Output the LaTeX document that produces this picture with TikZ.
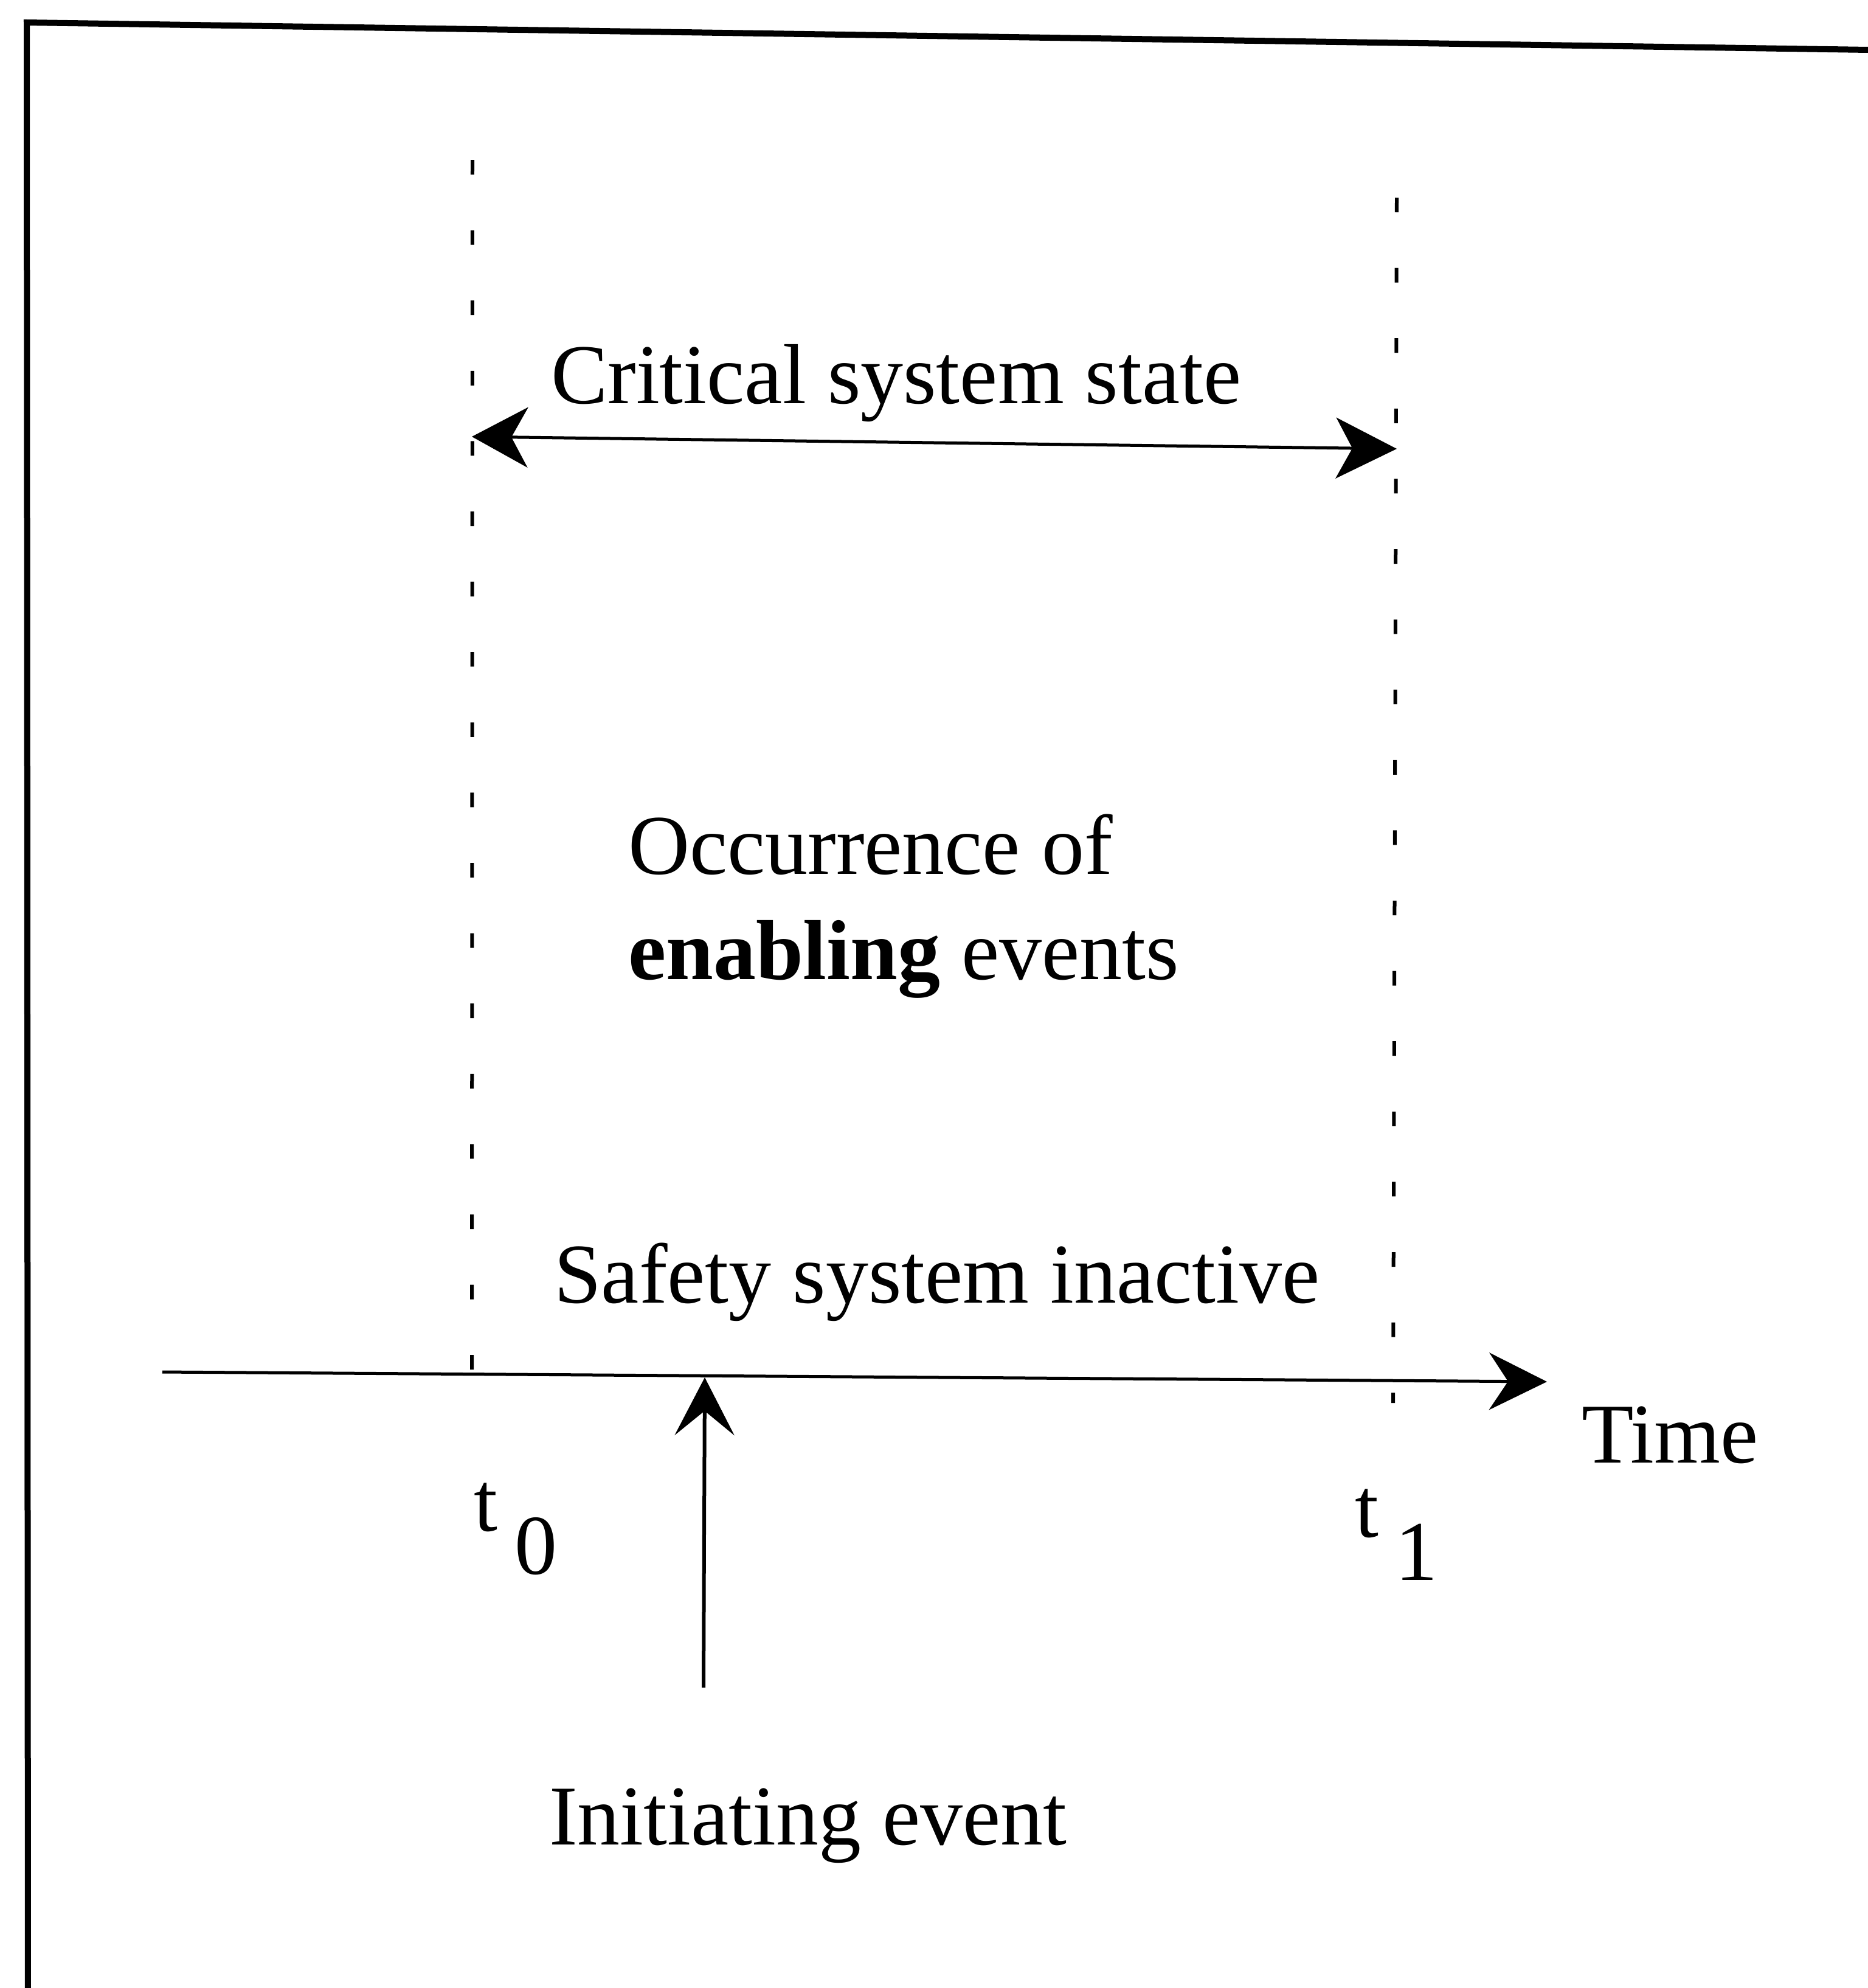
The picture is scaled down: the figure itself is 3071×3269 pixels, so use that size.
\documentclass[tikz,border=0pt]{standalone}
\usepackage{fontspec}
\setmainfont{Liberation Serif}
\usetikzlibrary{arrows.meta}
\begin{document}
\begin{tikzpicture}[x=1pt,y=-1pt,
  txt/.style={anchor=base west, inner sep=0pt, outer sep=0pt, font=\fontsize{140}{168}\selectfont},
  frame/.style={line width=10pt, line join=miter},
  guide/.style={line width=6pt, dash pattern=on 24pt off 91.6pt},
  axis/.style={line width=5pt, -{Stealth[length=95pt,width=94pt,inset=31pt]}},
  span/.style={line width=5pt, {Stealth[length=92pt,width=99pt,inset=27pt]}-{Stealth[length=100pt,width=100pt,inset=27pt]}},
  cause/.style={line width=6pt, -{Stealth[length=95pt,width=98pt,inset=40pt]}}]
\useasboundingbox (0,0) rectangle (3071,3269);
\fill[white] (0,0) rectangle (3071,3269);

% open frame: left and top edges only
\draw[frame] (46,3300) -- (44,37) -- (3100,82.4);

% reference points
\coordinate (gl0) at (777,263);
\coordinate (gl1) at (776,2258);
\coordinate (gr0) at (2297,325);
\coordinate (gr1) at (2291,2307);
\coordinate (axL) at (267,2256);
\coordinate (axR) at (2544,2272);
\coordinate (csL) at (776,718);
\coordinate (csR) at (2297,738);
\coordinate (ieS) at (1157,2775);
\coordinate (ieT) at (1159,2265);

% time marks t0 and t1
\draw[guide] (gl0) -- (gl1);
\draw[guide] (gr0) -- (gr1);

% time axis
\draw[axis] (axL) -- (axR);

% critical state interval
\draw[span] (csL) -- (csR);

% initiating event
\draw[cause] (ieS) -- (ieT);

% labels
\node[txt] (cst) at (906,663) {Critical system state};
\node[txt] (occ) at (1033,1437) {Occurrence of};
\node[txt] (ena) at (1033,1610) {\textbf{enabling} events};
\node[txt] (saf) at (911,2142) {Safety system inactive};
\node[txt] (time) at (2601,2405) {Time};
\node[txt] (tzero) at (779,2517) {t\hspace{29pt}\raisebox{-71pt}{0}};
\node[txt] (tone) at (2228,2527) {t\hspace{28pt}\raisebox{-71pt}{1}};
\node[txt] (ini) at (903,3033) {Initiating event};
\end{tikzpicture}
\end{document}
